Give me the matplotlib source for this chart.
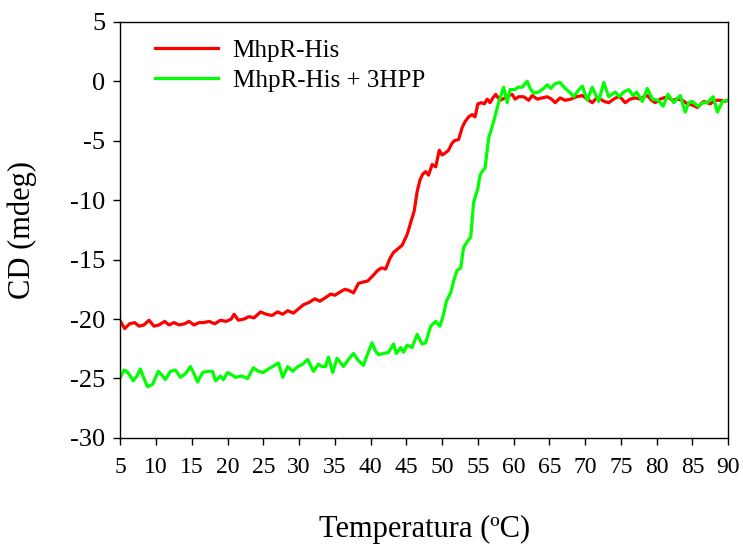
import matplotlib
matplotlib.use('Agg')
import matplotlib.pyplot as plt

plt.rcParams['font.family'] = ['Liberation Serif', 'DejaVu Serif']
plt.rcParams['axes.unicode_minus'] = False

# MhpR-His (red)
temp_red = [5.0, 5.6, 6.3, 7.0, 7.6, 8.3, 9.0, 9.7, 10.4, 11.2, 11.8, 12.5, 13.2, 14.0,
            14.6, 15.3, 16.0, 16.7, 17.4, 18.2, 19.0, 19.8, 20.5, 20.9, 21.5, 22.3, 23.0,
            23.7, 24.6, 25.4, 26.2, 27.0, 27.7, 28.4, 29.2, 30.0, 30.6, 31.4, 32.2, 32.9,
            33.7, 34.4, 35.0, 35.8, 36.4, 37.0, 37.6, 38.3, 38.9, 39.6, 40.4, 41.0, 41.5,
            42.1, 42.7, 43.2, 43.8, 44.4, 45.1, 45.7, 46.1, 46.5, 46.9, 47.3, 47.7, 48.1,
            48.6, 49.1, 49.6, 50.0, 50.5, 50.9, 51.3, 51.7, 52.3, 52.8, 53.2, 53.7, 54.2,
            54.6, 55.0, 55.5, 55.9, 56.3, 56.7, 57.1, 57.5, 58.1, 58.8, 59.3, 59.8, 60.2,
            60.7, 61.4, 62.1, 62.6, 63.3, 64.0, 64.7, 65.3, 65.8, 66.5, 67.2, 68.0, 68.8,
            69.6, 70.3, 71.0, 71.6, 72.1, 72.7, 73.3, 74.0, 74.6, 75.0, 75.6, 76.3, 77.0,
            77.7, 78.2, 78.7, 79.3, 79.8, 80.5, 81.0, 81.5, 82.2, 82.9, 83.6, 84.3, 85.0,
            85.7, 86.2, 86.6, 87.1, 87.5, 88.2, 88.9, 89.5, 90.0]
cd_red = [-20.2, -20.8, -20.4, -20.3, -20.6, -20.5, -20.1, -20.6, -20.5, -20.2, -20.5,
          -20.3, -20.5, -20.4, -20.2, -20.5, -20.3, -20.3, -20.2, -20.4, -20.1, -20.2,
          -20.0, -19.6, -20.1, -20.0, -19.8, -19.9, -19.4, -19.6, -19.7, -19.4, -19.6,
          -19.3, -19.5, -19.1, -18.8, -18.6, -18.3, -18.5, -18.2, -17.9, -18.0, -17.7,
          -17.5, -17.6, -17.8, -17.0, -16.9, -16.8, -16.3, -15.9, -15.7, -15.8, -14.9,
          -14.4, -14.1, -13.8, -12.9, -11.7, -10.9, -9.3, -8.3, -7.8, -7.6, -7.9, -7.0,
          -7.2, -5.8, -6.2, -6.0, -5.8, -5.3, -5.0, -4.9, -3.9, -3.4, -3.0, -2.8, -3.0,
          -1.9, -1.8, -1.9, -1.5, -1.8, -1.4, -1.1, -1.6, -1.4, -1.2, -1.1, -1.5, -1.3,
          -1.3, -1.6, -1.2, -1.5, -1.4, -1.3, -1.5, -1.8, -1.4, -1.6, -1.5, -1.3, -1.2,
          -1.5, -1.8, -1.4, -1.5, -1.7, -1.8, -1.5, -1.3, -1.4, -1.8, -1.5, -1.4, -1.5,
          -1.3, -1.2, -1.6, -1.8, -1.5, -1.4, -1.3, -1.6, -1.5, -1.6, -1.9, -2.0, -2.2,
          -1.9, -1.7, -1.8, -1.9, -1.6, -1.6, -1.7, -1.6]

# MhpR-His + 3HPP (green)
temp_green = [5.0, 5.5, 5.9, 6.4, 6.8, 7.3, 7.8, 8.3, 8.8, 9.5, 10.3, 10.8, 11.3, 12.0,
              12.7, 13.4, 14.1, 14.8, 15.3, 15.8, 16.5, 17.2, 17.9, 18.3, 19.0, 19.4,
              20.0, 20.6, 21.1, 22.0, 22.8, 23.6, 24.3, 25.0, 25.7, 26.3, 27.1, 27.7,
              28.4, 29.1, 29.8, 30.5, 31.2, 32.0, 32.7, 33.2, 33.7, 34.1, 34.7, 35.3,
              35.7, 36.2, 36.9, 37.6, 38.3, 39.0, 39.6, 40.2, 40.7, 41.1, 41.8, 42.5,
              43.2, 43.6, 44.2, 44.6, 45.1, 45.8, 46.5, 47.2, 47.7, 48.4, 49.1, 49.7,
              50.2, 50.6, 51.2, 51.7, 52.1, 52.6, 53.0, 53.5, 54.0, 54.4, 55.0, 55.3,
              55.7, 56.0, 56.5, 57.2, 57.9, 58.6, 59.1, 59.5, 60.2, 60.6, 61.2, 61.9,
              62.3, 62.8, 63.5, 64.2, 64.7, 65.2, 65.8, 66.5, 67.2, 67.8, 68.4, 69.0,
              69.6, 70.3, 71.0, 71.9, 72.6, 73.3, 74.2, 74.8, 75.4, 76.1, 76.7, 77.2,
              78.0, 78.7, 79.4, 80.2, 80.9, 81.6, 82.4, 83.3, 84.0, 84.5, 85.0, 85.8,
              86.5, 87.1, 87.9, 88.5, 89.2, 89.9]
cd_green = [-24.9, -24.3, -24.4, -24.8, -25.2, -24.8, -24.2, -25.0, -25.7, -25.5, -24.4,
            -24.7, -25.1, -24.4, -24.3, -24.9, -24.6, -24.0, -24.6, -25.3, -24.5, -24.4,
            -24.4, -25.2, -24.8, -25.1, -24.5, -24.7, -24.9, -24.8, -25.0, -24.1, -24.4,
            -24.5, -24.2, -24.0, -23.7, -24.9, -24.0, -24.4, -24.0, -23.8, -23.4, -24.4,
            -23.8, -24.0, -24.0, -23.2, -24.5, -23.3, -23.6, -24.0, -23.4, -22.9, -23.5,
            -23.9, -22.9, -22.0, -22.7, -23.0, -22.9, -22.8, -22.1, -22.9, -22.4, -22.8,
            -22.2, -22.4, -21.3, -22.1, -22.0, -20.6, -20.2, -20.6, -19.6, -18.5, -17.8,
            -16.6, -15.9, -15.7, -14.0, -13.5, -13.1, -10.2, -9.0, -7.9, -7.5, -7.3,
            -4.8, -3.4, -1.8, -0.5, -1.8, -0.7, -0.7, -0.5, -0.5, 0.0, -0.6, -1.0, -0.9,
            -0.6, -0.3, -0.6, -0.2, -0.1, -0.6, -0.9, -1.3, -0.8, -0.4, -1.6, -0.5, -1.7,
            -0.1, -1.3, -0.9, -1.3, -0.9, -0.7, -1.2, -0.9, -1.7, -0.6, -1.5, -1.6, -2.1,
            -1.1, -1.8, -1.2, -2.6, -1.8, -1.7, -2.1, -1.8, -1.8, -1.3, -2.6, -1.7, -1.6]

x_ticks = list(range(5, 95, 5))
y_ticks = list(range(-30, 10, 5))

fig = plt.figure(figsize=(7.43, 5.46), dpi=100)
ax = fig.add_axes([0.162, 0.198, 0.818, 0.762])

ax.plot(temp_red, cd_red, color='#ff0000', lw=2.3, label='MhpR-His')
ax.plot(temp_green, cd_green, color='#00ff00', lw=2.3, label='MhpR-His + 3HPP')

ax.set_xlim(5, 90)
ax.set_ylim(-30, 5)
ax.set_xticks(x_ticks)
ax.set_yticks(y_ticks)
ax.tick_params(axis='both', direction='out', length=5, width=1, top=False, right=False)
ax.tick_params(axis='x', labelsize=17, pad=9)
ax.tick_params(axis='y', labelsize=19, pad=6)
for s in ax.spines.values():
    s.set_linewidth(1)

ax.set_xlabel('Temperatura (ºC)', fontsize=22)
ax.set_ylabel('CD (mdeg)', fontsize=22)
ax.xaxis.set_label_coords(0.5, -0.185)
ax.yaxis.set_label_coords(-0.137, 0.5)

ax.legend(loc='upper left', bbox_to_anchor=(0.02, 1.012), frameon=False, fontsize=18,
          handlelength=2.5, handletextpad=0.6, labelspacing=0.3)

fig.savefig('out.png', dpi=100)
